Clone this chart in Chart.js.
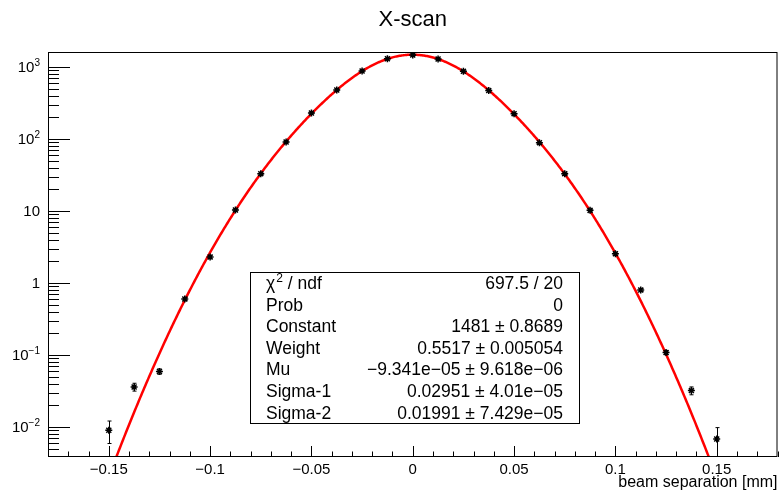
<!DOCTYPE html>
<html>
<head>
<meta charset="utf-8">
<script src="https://cdn.jsdelivr.net/npm/chart.js@4.4.1/dist/chart.umd.min.js"></script>
<style>
  html, body { margin: 0; padding: 0; background: #fff; }
  #wrap { width: 783px; height: 496px; }
</style>
</head>
<body>
<div id="wrap"><canvas id="chart" width="783" height="496"></canvas></div>
<script>
// measured points (beam separation in mm, rate)
const scanX = [-0.15, -0.1375, -0.125, -0.1125, -0.1, -0.0875, -0.075, -0.0625, -0.05, -0.0375, -0.025, -0.0125,
  0, 0.0125, 0.025, 0.0375, 0.05, 0.0625, 0.075, 0.0875, 0.1, 0.1125, 0.125, 0.1375, 0.15];
const rate = [0.009, 0.036, 0.059, 0.60, 2.3, 10.3, 33, 91, 230, 480, 880, 1300,
  1470, 1290, 870, 470, 225, 89, 33, 10.2, 2.55, 0.80, 0.108, 0.032, 0.0068];
const rateErr = [0.0031, 0.0045, 0.005, 0.03, 0.12, 0.3, 0.6, 1.0, 1.5, 2.2, 3.0, 3.6,
  3.8, 3.6, 3.0, 2.2, 1.5, 1.0, 0.6, 0.3, 0.13, 0.04, 0.007, 0.004, 0.003];

// fit result printed in the stats box (double gaussian)
const fitConstant = 1481;
const fitWeight = 0.5517;
const fitMu = -9.341e-05;
const fitSigma1 = 0.02951;
const fitSigma2 = 0.01991;

const xTickValues = [-0.15, -0.1, -0.05, 0, 0.05, 0.1, 0.15];
const xTickLabels = ["\u22120.15", "\u22120.1", "\u22120.05", "0", "0.05", "0.1", "0.15"];
const yTickValues = [0.01, 0.1, 1, 10, 100, 1000];
const yTickBase = ["10", "10", "1", "10", "10", "10"];
const yTickExp = ["\u22122", "\u22121", "", "", "2", "3"];

const statsLabels = ["/ ndf", "Prob", "Constant", "Weight", "Mu", "Sigma-1", "Sigma-2"];
const statsValues = ["697.5 / 20", "0", "1481 \u00b1 0.8689", "0.5517 \u00b1 0.005054",
  "\u22129.341e\u221205 \u00b1 9.618e\u221206", "0.02951 \u00b1 4.01e\u221205", "0.01991 \u00b1 7.429e\u221205"];

const FONT = "'Liberation Sans', Arial, sans-serif";

function fitFunc(x) {
  const d = x - fitMu;
  return fitConstant * (fitWeight * Math.exp(-0.5 * (d / fitSigma1) ** 2) +
    (1 - fitWeight) * Math.exp(-0.5 * (d / fitSigma2) ** 2));
}

const fitCurve = [];
for (let i = 0; i <= 720; i++) {
  const x = -0.18 + i * 0.0005;
  fitCurve.push({ x: x, y: fitFunc(x) });
}

const points = scanX.map((x, i) => ({ x: x, y: rate[i] }));

const rootStyle = {
  id: "rootStyle",
  afterDatasetsDraw(chart) {
    const { ctx, chartArea, scales } = chart;
    const xs = scales.x, ys = scales.y;
    ctx.save();
    ctx.beginPath();
    ctx.rect(chartArea.left, chartArea.top, chartArea.right - chartArea.left, chartArea.bottom - chartArea.top);
    ctx.clip();
    ctx.strokeStyle = "#000";
    ctx.lineWidth = 1;
    scanX.forEach((x, i) => {
      const px = Math.round(xs.getPixelForValue(x)) + 0.5;
      const hi = ys.getPixelForValue(rate[i] + rateErr[i]);
      const lo = rate[i] - rateErr[i] > 0 ? ys.getPixelForValue(rate[i] - rateErr[i]) : chartArea.bottom;
      ctx.beginPath();
      ctx.moveTo(px, hi); ctx.lineTo(px, lo);
      ctx.moveTo(px - 2, hi); ctx.lineTo(px + 2, hi);
      ctx.moveTo(px - 2, lo); ctx.lineTo(px + 2, lo);
      ctx.stroke();
    });
    ctx.restore();
  },
  afterDraw(chart) {
    const { ctx, chartArea, scales } = chart;
    const xs = scales.x, ys = scales.y;
    const L = chartArea.left, R = chartArea.right, T = chartArea.top, B = chartArea.bottom;
    ctx.save();

    // frame
    ctx.strokeStyle = "#000";
    ctx.lineWidth = 1;
    ctx.strokeRect(L + 0.5, T + 0.5, R - L - 1, B - T - 1);

    // x ticks (pointing into the frame)
    ctx.beginPath();
    for (let k = -18; k <= 18; k++) {
      const v = k / 100;
      const px = Math.round(xs.getPixelForValue(v)) + 0.5;
      const len = k % 5 === 0 ? 11 : 5.5;
      ctx.moveTo(px, B); ctx.lineTo(px, B - len);
    }
    // y ticks, decades long, 2..9 short
    for (let e = -3; e <= 3; e++) {
      for (let m = 1; m <= 9; m++) {
        const v = m * Math.pow(10, e);
        if (v < ys.min || v > ys.max) continue;
        const py = Math.round(ys.getPixelForValue(v)) + 0.5;
        const len = m === 1 ? 22 : 11;
        ctx.moveTo(L, py); ctx.lineTo(L + len, py);
      }
    }
    ctx.stroke();

    // x tick labels
    ctx.fillStyle = "#000";
    ctx.font = "15px " + FONT;
    ctx.textAlign = "center";
    ctx.textBaseline = "alphabetic";
    xTickValues.forEach((v, i) => {
      ctx.fillText(xTickLabels[i], xs.getPixelForValue(v), B + 17);
    });

    // y tick labels with superscript exponents
    yTickValues.forEach((v, i) => {
      const py = ys.getPixelForValue(v);
      const right = 40;
      ctx.font = "10px " + FONT;
      const ew = yTickExp[i] ? ctx.measureText(yTickExp[i]).width : 0;
      ctx.textAlign = "right";
      if (yTickExp[i]) ctx.fillText(yTickExp[i], right, py - 1);
      ctx.font = "15px " + FONT;
      ctx.fillText(yTickBase[i], right - ew, py + 5.5);
    });

    // title
    ctx.font = "22px " + FONT;
    ctx.textAlign = "center";
    ctx.fillText("X-scan", (L + R) / 2, 26);

    // axis title
    ctx.font = "16px " + FONT;
    ctx.textAlign = "right";
    ctx.fillText("beam separation [mm]", R, 487);

    // stats box
    const bx = 250, by = 272, bw = 329, bh = 151;
    ctx.fillStyle = "#fff";
    ctx.fillRect(bx, by, bw, bh);
    ctx.strokeStyle = "#000";
    ctx.strokeRect(bx + 0.5, by + 0.5, bw, bh);
    ctx.fillStyle = "#000";
    const rowH = 21.6;
    statsLabels.forEach((lab, i) => {
      const base = 289 + i * rowH;
      ctx.font = "17.5px " + FONT;
      ctx.textAlign = "left";
      if (i === 0) {
        ctx.fillText("\u03c7", 266, base);
        const cw = ctx.measureText("\u03c7").width;
        ctx.font = "12px " + FONT;
        ctx.fillText("2", 266 + cw + 1, base - 7);
        const sw = ctx.measureText("2").width;
        ctx.font = "17.5px " + FONT;
        ctx.fillText(" " + lab, 266 + cw + 1 + sw, base);
      } else {
        ctx.fillText(lab, 266, base);
      }
      ctx.textAlign = "right";
      ctx.fillText(statsValues[i], 563, base);
    });
    ctx.restore();
  }
};

new Chart(document.getElementById("chart"), {
  type: "scatter",
  data: {
    datasets: [
      {
        label: "fit",
        type: "line",
        data: fitCurve,
        borderColor: "#ff0000",
        borderWidth: 2.5,
        pointRadius: 0,
        fill: false,
        tension: 0,
        order: 2
      },
      {
        label: "data",
        data: points,
        pointStyle: "star",
        pointRadius: 3.5,
        borderColor: "#000",
        backgroundColor: "#000",
        borderWidth: 1.5,
        order: 1
      }
    ]
  },
  options: {
    responsive: false,
    animation: false,
    devicePixelRatio: 1,
    layout: { padding: { top: 52, right: 2, left: 0, bottom: 0 } },
    plugins: { legend: { display: false }, tooltip: { enabled: false }, title: { display: false } },
    scales: {
      x: {
        type: "linear",
        min: -0.18,
        max: 0.18,
        grid: { display: false, drawTicks: false },
        border: { display: false },
        ticks: { display: false },
        afterFit(s) { s.height = 39; }
      },
      y: {
        type: "logarithmic",
        min: 0.00383,
        max: 1615,
        grid: { display: false, drawTicks: false },
        border: { display: false },
        ticks: { display: false },
        afterFit(s) { s.width = 48; }
      }
    }
  },
  plugins: [rootStyle]
});
</script>
</body>
</html>
